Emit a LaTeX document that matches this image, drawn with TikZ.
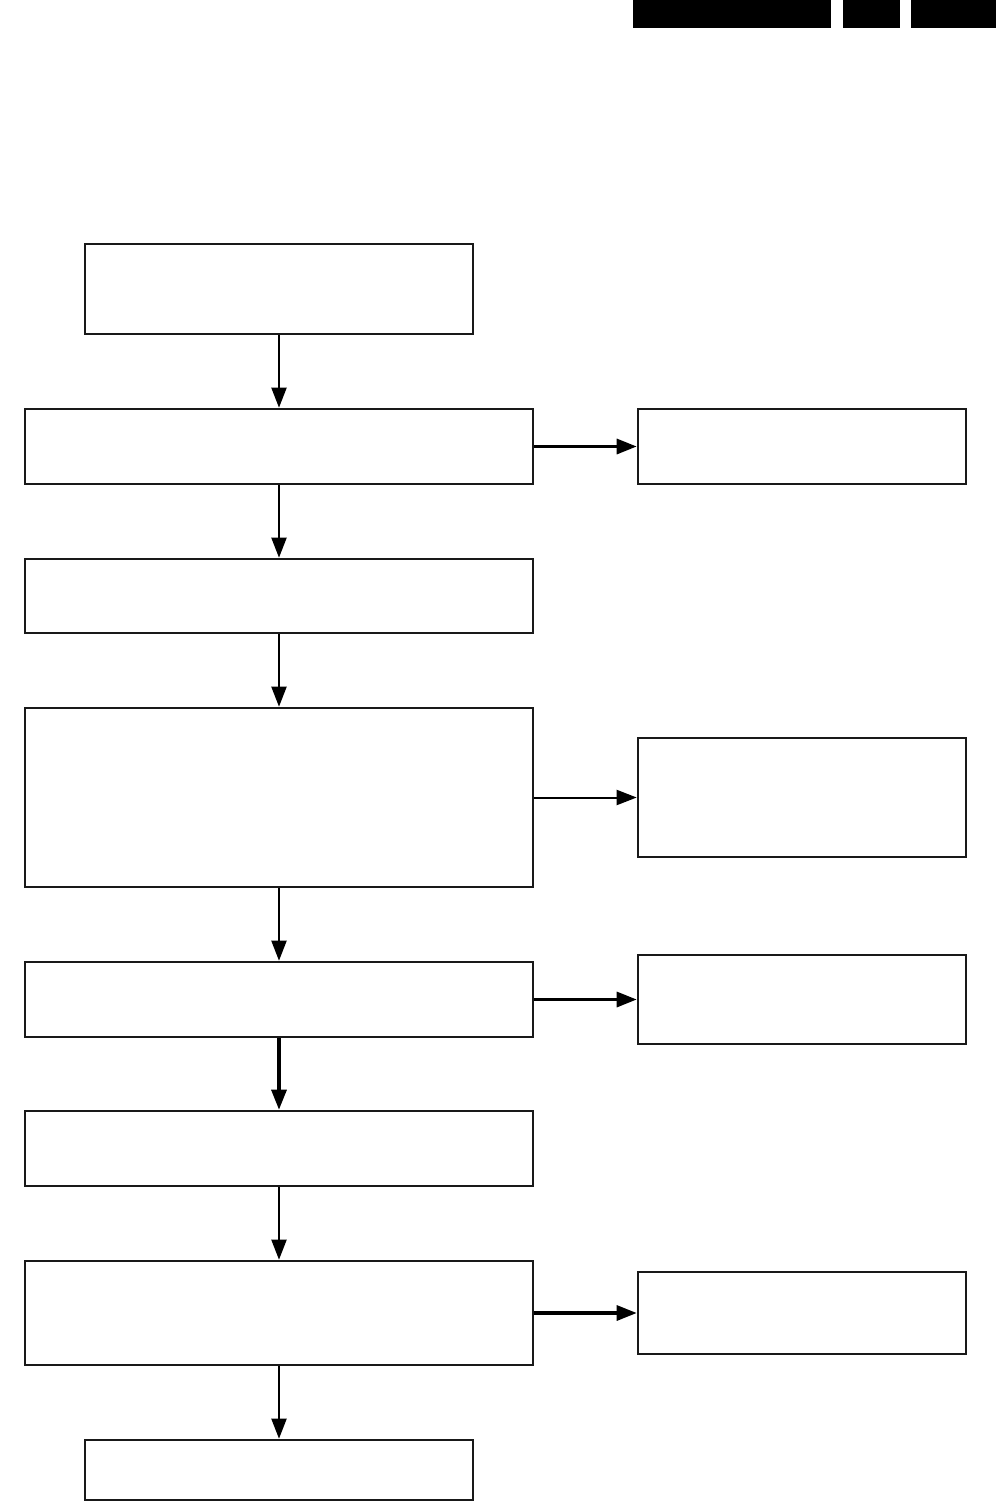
\documentclass[tikz,border=0pt]{standalone}
\usetikzlibrary{arrows.meta}
\begin{document}
\begin{tikzpicture}[x=1pt,y=-1pt,
  blk/.style={draw=black!90,line width=2.6pt,fill=white,inner sep=0pt},
  bar/.style={fill=black,draw=none},
  thinarr/.style={line width=2pt,-{Triangle[length=20pt,width=15pt]}},
  thickarr/.style={line width=3.2pt,-{Triangle[length=20pt,width=15pt]}}]
\useasboundingbox (0,0) rectangle (996,1502);
\fill[white] (0,0) rectangle (996,1502);
% header bars
\fill[bar] (633,0) rectangle (831,28);
\fill[bar] (843,0) rectangle (900,28);
\fill[bar] (911,0) rectangle (996,28);
% boxes
\node[blk,minimum width=388pt,minimum height=90pt] (b0) at (279,289) {};
\node[blk,minimum width=508pt,minimum height=75pt] (b1) at (279,446.5) {};
\node[blk,minimum width=328pt,minimum height=75pt] (r1) at (802,446.5) {};
\node[blk,minimum width=508pt,minimum height=74pt] (b2) at (279,596) {};
\node[blk,minimum width=508pt,minimum height=179pt] (b3) at (279,797.5) {};
\node[blk,minimum width=328pt,minimum height=119pt] (r3) at (802,797.5) {};
\node[blk,minimum width=508pt,minimum height=75pt] (b4) at (279,999.5) {};
\node[blk,minimum width=328pt,minimum height=89pt] (r4) at (802,999.5) {};
\node[blk,minimum width=508pt,minimum height=75pt] (b5) at (279,1148.5) {};
\node[blk,minimum width=508pt,minimum height=104pt] (b6) at (279,1313) {};
\node[blk,minimum width=328pt,minimum height=82pt] (r6) at (802,1313) {};
\node[blk,minimum width=388pt,minimum height=60pt] (b7) at (279,1470) {};
% connectors
\draw[thinarr] (b0.south) -- (b1.north);
\draw[thinarr] (b1.south) -- (b2.north);
\draw[thinarr] (b2.south) -- (b3.north);
\draw[thinarr] (b3.south) -- (b4.north);
\draw[thickarr] (b4.south) -- (b5.north);
\draw[thinarr] (b5.south) -- (b6.north);
\draw[thinarr] (b6.south) -- (b7.north);
\draw[thickarr] (b1.east) -- (r1.west);
\draw[thinarr] (b3.east) -- (r3.west);
\draw[thickarr] (b4.east) -- (r4.west);
\draw[thickarr] (b6.east) -- (r6.west);
\end{tikzpicture}
\end{document}
